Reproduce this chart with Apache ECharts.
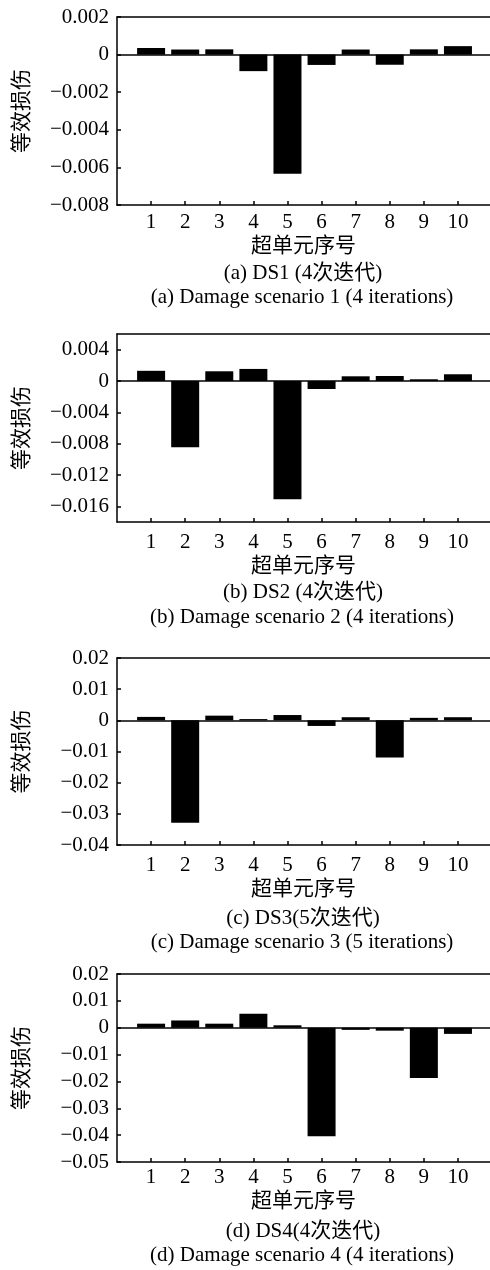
<!DOCTYPE html>
<html>
<head>
<meta charset="utf-8">
<script src="https://cdn.jsdelivr.net/npm/echarts@6/dist/echarts.min.js"></script>
<style>
    html, body { margin: 0; padding: 0; background: #fff; }
    #charts { width: 490px; height: 1270px; }
</style>
</head>
<body>
<div id="charts"></div>
<script>
// 超单元序号
var categories = [1, 2, 3, 4, 5, 6, 7, 8, 9, 10];

// 等效损伤 for each damage scenario
var ds1 = [0.00035, 0.00027, 0.00028, -0.00088, -0.00634, -0.00055, 0.00027, -0.00054, 0.00028, 0.00045];
var ds2 = [0.0013, -0.00847, 0.00124, 0.00154, -0.0151, -0.00102, 0.0006, 0.00064, 0.00022, 0.00086];
var ds3 = [0.0011, -0.0329, 0.0015, 0.0004, 0.0017, -0.0018, 0.001, -0.0119, 0.0008, 0.001];
var ds4 = [0.0015, 0.0027, 0.0015, 0.0052, 0.0009, -0.0404, -0.0008, -0.0011, -0.0187, -0.0023];

// y tick labels
var yTicks1 = [-0.008, -0.006, -0.004, -0.002, 0, 0.002];
var yTicks2 = [-0.016, -0.012, -0.008, -0.004, 0, 0.004];
var yTicks3 = [-0.04, -0.03, -0.02, -0.01, 0, 0.01, 0.02];
var yTicks4 = [-0.05, -0.04, -0.03, -0.02, -0.01, 0, 0.01, 0.02];

var yRange = [[-0.008, 0.002], [-0.018, 0.006], [-0.04, 0.02], [-0.05, 0.02]];
var yDecimals = [3, 3, 2, 2];

var captionsCn = ['(a) DS1 (4次迭代)', '(b) DS2 (4次迭代)', '(c) DS3(5次迭代)', '(d) DS4(4次迭代)'];
var captionsEn = ['(a) Damage scenario 1 (4 iterations)', '(b) Damage scenario 2 (4 iterations)',
                  '(c) Damage scenario 3 (5 iterations)', '(d) Damage scenario 4 (4 iterations)'];

var xName = '超单元序号';
var yName = '等效损伤';

(function () {
    var myChart = echarts.init(document.getElementById('charts'));
    var serif = '"Liberation Serif", "Times New Roman", "Noto Sans CJK SC", serif';
    var cjk = '"Noto Sans CJK SC", sans-serif';
    var fs = 21;
    var black = {color: '#000', width: 1.5};

    var allData = [ds1, ds2, ds3, ds4];
    var allTicks = [yTicks1, yTicks2, yTicks3, yTicks4];

    // layout per panel (plot runs slightly past the right edge of the picture)
    var layout = [
        {top: 17,  height: 188, lblMargin: 7,  nameGap: 27, cap1: 273,  cap2: 297},
        {top: 334, height: 188, lblMargin: 10, nameGap: 31, cap1: 592,  cap2: 617},
        {top: 658, height: 187, lblMargin: 10, nameGap: 31, cap1: 918,  cap2: 942},
        {top: 974, height: 188, lblMargin: 5,  nameGap: 26, cap1: 1231, cap2: 1255}
    ];

    function fmt(dec) {
        return function (v) {
            if (Math.abs(v) < 1e-12) return '0';
            return (v < 0 ? '\u2212' : '') + Math.abs(v).toFixed(dec);
        };
    }

    var grid = [], xAxis = [], yAxis = [], series = [], graphic = [];

    for (var i = 0; i < 4; i++) {
        var L = layout[i];
        grid.push({left: 117, right: 0, top: L.top, height: L.height});
        xAxis.push({
            gridIndex: i,
            type: 'value',
            position: 'bottom',
            min: 0, max: 10.94, interval: 1,
            name: xName,
            nameLocation: 'middle',
            nameGap: L.nameGap,
            nameTextStyle: {fontFamily: cjk, fontSize: fs, color: '#000'},
            axisLine: {show: true, onZero: false, lineStyle: black},
            axisTick: {inside: true, length: 4, customValues: categories, lineStyle: black},
            axisLabel: {customValues: categories, margin: L.lblMargin, fontFamily: serif, fontSize: fs, color: '#000'},
            splitLine: {show: false}
        });
        // top frame line
        xAxis.push({
            gridIndex: i,
            type: 'value',
            position: 'top',
            min: 0, max: 10.94,
            axisLine: {show: true, onZero: false, lineStyle: black},
            axisTick: {show: false},
            axisLabel: {show: false},
            splitLine: {show: false}
        });
        yAxis.push({
            gridIndex: i,
            type: 'value',
            position: 'left',
            min: yRange[i][0], max: yRange[i][1],
            name: yName,
            nameLocation: 'middle',
            nameRotate: 90,
            nameGap: 86,
            nameTextStyle: {fontFamily: cjk, fontSize: fs, color: '#000'},
            axisLine: {show: true, onZero: false, lineStyle: black},
            axisTick: {show: true, inside: true, length: 4, customValues: allTicks[i], lineStyle: black},
            axisLabel: {customValues: allTicks[i], margin: 8, formatter: fmt(yDecimals[i]),
                        fontFamily: serif, fontSize: fs, color: '#000'},
            splitLine: {show: false}
        });
        series.push({
            type: 'bar',
            xAxisIndex: i * 2, yAxisIndex: i,
            barWidth: 28,
            itemStyle: {color: '#000'},
            data: categories.map(function (c, k) { return [c, allData[i][k]]; }),
            markLine: {
                silent: true, symbol: 'none', label: {show: false},
                lineStyle: {color: '#000', width: 1.5, type: 'solid'},
                data: [{yAxis: 0}]
            }
        });
        graphic.push({
            type: 'text', x: 303, y: L.cap1,
            style: {text: captionsCn[i], font: fs + 'px ' + serif, align: 'center', verticalAlign: 'middle', fill: '#000'}
        });
        graphic.push({
            type: 'text', x: 302, y: L.cap2,
            style: {text: captionsEn[i], font: fs + 'px ' + serif, align: 'center', verticalAlign: 'middle', fill: '#000'}
        });
    }

    var option = {
        animation: false,
        backgroundColor: '#fff',
        grid: grid,
        xAxis: xAxis,
        yAxis: yAxis,
        series: series,
        graphic: graphic
    };

    myChart.setOption(option);
})();
</script>
</body>
</html>
